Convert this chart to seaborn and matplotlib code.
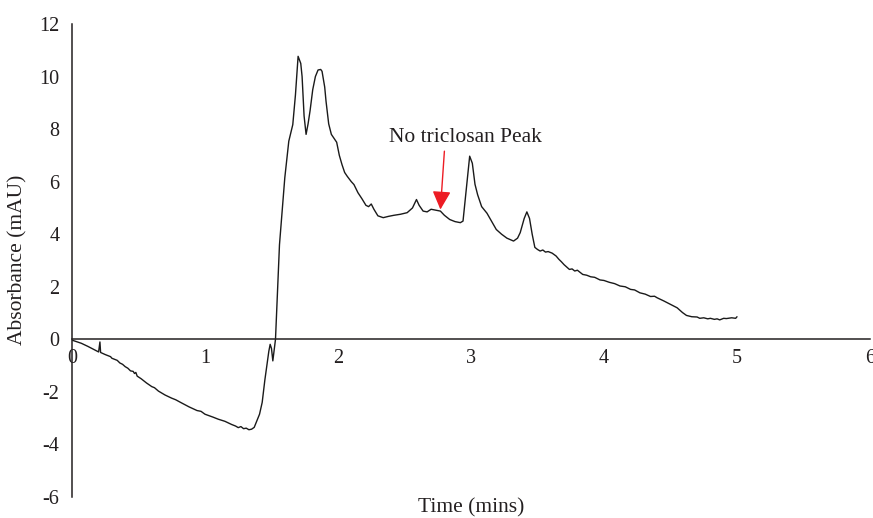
import matplotlib
matplotlib.use("Agg")
import matplotlib.pyplot as plt
import seaborn as sns
import pandas as pd

time_min = [0.00, 0.03, 0.07, 0.12, 0.17, 0.20, 0.21, 0.215, 0.25, 0.27, 0.29, 0.30, 0.32, 0.34,
            0.36, 0.38, 0.40, 0.42, 0.44, 0.46, 0.47, 0.48, 0.49, 0.52, 0.56, 0.60, 0.62, 0.65,
            0.70, 0.75, 0.78, 0.82, 0.88, 0.94, 0.97, 1.00, 1.06, 1.10, 1.15, 1.20, 1.23, 1.25,
            1.27, 1.29, 1.31, 1.33, 1.35, 1.37, 1.39, 1.41, 1.43, 1.45, 1.47, 1.48, 1.49, 1.50,
            1.51, 1.52, 1.53, 1.56, 1.60, 1.63, 1.66, 1.68, 1.70, 1.72, 1.73, 1.745, 1.76, 1.775,
            1.79, 1.81, 1.83, 1.85, 1.87, 1.88, 1.90, 1.91, 1.93, 1.95, 1.97, 1.99, 2.01, 2.03,
            2.05, 2.07, 2.10, 2.12, 2.15, 2.18, 2.21, 2.23, 2.25, 2.27, 2.30, 2.34, 2.38, 2.42,
            2.47, 2.52, 2.56, 2.59, 2.61, 2.64, 2.67, 2.70, 2.73, 2.77, 2.80, 2.84, 2.88, 2.92,
            2.94, 2.96, 2.99, 3.01, 3.03, 3.05, 3.08, 3.12, 3.16, 3.19, 3.23, 3.27, 3.32, 3.35,
            3.37, 3.40, 3.42, 3.44, 3.46, 3.48, 3.50, 3.52, 3.54, 3.56, 3.58, 3.61, 3.64, 3.66,
            3.68, 3.70, 3.72, 3.74, 3.76, 3.78, 3.80, 3.84, 3.87, 3.90, 3.93, 3.97, 4.00, 4.04,
            4.08, 4.12, 4.16, 4.20, 4.23, 4.27, 4.31, 4.35, 4.38, 4.40, 4.45, 4.50, 4.55, 4.59,
            4.62, 4.66, 4.70, 4.72, 4.75, 4.78, 4.80, 4.83, 4.85, 4.87, 4.90, 4.92, 4.96, 4.99,
            5.00]
absorbance = [-0.03, -0.08, -0.15, -0.27, -0.40, -0.48, -0.10, -0.50, -0.58, -0.62, -0.66, -0.72,
              -0.76, -0.80, -0.90, -0.95, -1.04, -1.10, -1.20, -1.22, -1.30, -1.26, -1.40, -1.50,
              -1.66, -1.80, -1.84, -1.97, -2.12, -2.24, -2.30, -2.41, -2.57, -2.71, -2.74, -2.85,
              -2.96, -3.04, -3.12, -3.24, -3.30, -3.36, -3.32, -3.40, -3.38, -3.44, -3.42, -3.35,
              -3.10, -2.85, -2.40, -1.55, -0.80, -0.45, -0.19, -0.35, -0.82, -0.40, 0.00, 3.60,
              6.15, 7.54, 8.17, 9.30, 10.77, 10.50, 10.00, 8.50, 7.80, 8.20, 8.70, 9.50, 10.00,
              10.25, 10.27, 10.20, 9.60, 9.06, 8.20, 7.80, 7.65, 7.50, 7.00, 6.65, 6.35, 6.20,
              6.00, 5.89, 5.58, 5.35, 5.10, 5.05, 5.15, 4.95, 4.70, 4.63, 4.68, 4.72, 4.76, 4.82,
              5.00, 5.32, 5.10, 4.88, 4.85, 4.95, 4.92, 4.88, 4.72, 4.56, 4.48, 4.44, 4.50, 5.50,
              6.97, 6.70, 5.90, 5.50, 5.05, 4.80, 4.45, 4.18, 4.00, 3.85, 3.74, 3.85, 4.06, 4.60,
              4.85, 4.60, 4.00, 3.50, 3.42, 3.36, 3.40, 3.32, 3.34, 3.28, 3.17, 3.05, 2.95, 2.84,
              2.75, 2.66, 2.68, 2.60, 2.63, 2.47, 2.44, 2.38, 2.36, 2.26, 2.24, 2.17, 2.12, 2.03,
              2.00, 1.90, 1.88, 1.77, 1.72, 1.63, 1.64, 1.58, 1.46, 1.33, 1.20, 1.02, 0.91, 0.86,
              0.85, 0.80, 0.82, 0.78, 0.80, 0.76, 0.78, 0.74, 0.80, 0.79, 0.82, 0.80, 0.86]

x_ticks = [0, 1, 2, 3, 4, 5, 6]
y_ticks = [-6, -4, -2, 0, 2, 4, 6, 8, 10, 12]
annotation_text = "No triclosan Peak"
annotation_tip = (2.77, 4.94)
annotation_tail = (2.80, 7.16)
annotation_text_xy = (2.96, 7.68)

df = pd.DataFrame({"Time (mins)": time_min, "Absorbance (mAU)": absorbance})

sns.set_theme(style="white")
plt.rcParams["font.family"] = ["Liberation Serif", "DejaVu Serif"]
txt_color = "#231f20"

fig = plt.figure(figsize=(8.73, 5.18), dpi=100)
ax = fig.add_axes([72 / 873, 1 - 497 / 518, (870 - 72) / 873, (497 - 24) / 518])

sns.lineplot(data=df, x="Time (mins)", y="Absorbance (mAU)", ax=ax, sort=False,
             estimator=None, color="#1a1a1a", linewidth=1.0)

ax.set_xlim(0, 6)
ax.set_ylim(-6, 12)
ax.set_xticks(x_ticks)
ax.set_yticks(y_ticks)
ax.set_xticklabels([str(t) for t in x_ticks])
ax.set_yticklabels([str(t) for t in y_ticks])
ax.tick_params(axis="both", length=0, labelsize=14.5, colors=txt_color)
ax.tick_params(axis="x", pad=7)
ax.tick_params(axis="y", pad=9)

for s in ["top", "right"]:
    ax.spines[s].set_visible(False)
ax.spines["bottom"].set_position(("data", 0))
for s in ["left", "bottom"]:
    ax.spines[s].set_color(txt_color)
    ax.spines[s].set_linewidth(1.1)

ax.set_xlabel("")
ax.set_ylabel("")
fig.text(471 / 873, 1 - 508 / 518, "Time (mins)", ha="center", va="center", fontsize=15.5, color=txt_color)
fig.text(18 / 873, 1 - 260 / 518, "Absorbance (mAU)", ha="center", va="center", rotation=90,
         fontsize=15.5, color=txt_color)

ax.text(annotation_text_xy[0], annotation_text_xy[1], annotation_text, ha="center", va="center",
        fontsize=15.5, color=txt_color)
ax.annotate("", xy=annotation_tip, xytext=annotation_tail,
            arrowprops=dict(arrowstyle="-|>,head_length=0.8,head_width=0.4", color="#ed1c24",
                            lw=1.0, shrinkA=0, shrinkB=0, mutation_scale=14))

fig.savefig("out.png", dpi=100)
